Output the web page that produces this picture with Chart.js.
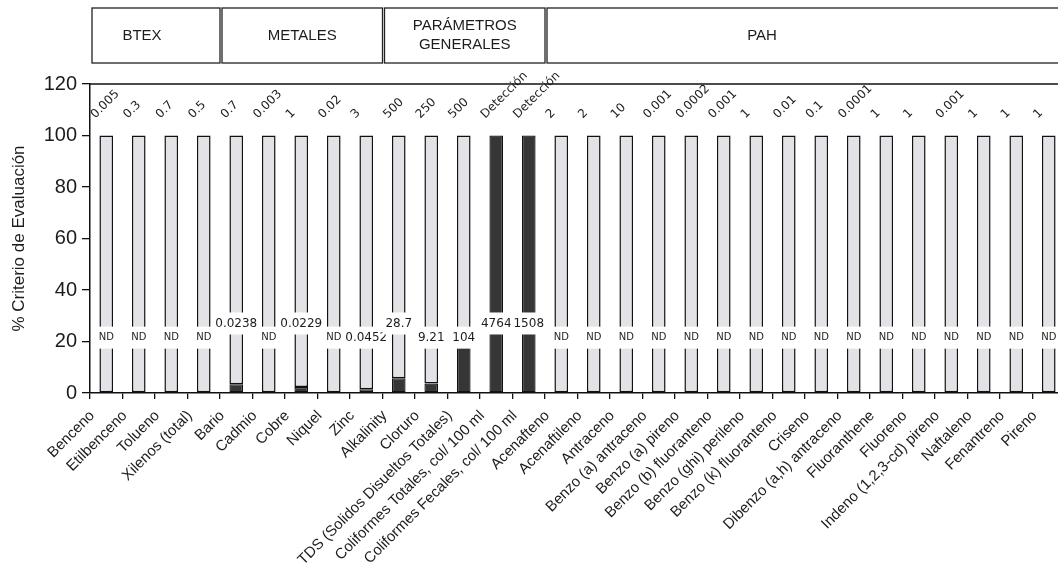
<!DOCTYPE html>
<html>
<head>
<meta charset="utf-8">
<script src="https://cdn.jsdelivr.net/npm/chart.js@4.4.1/dist/chart.umd.min.js"></script>
<style>
html, body { margin: 0; padding: 0; background: #fff; overflow: hidden; }
canvas { display: block; }
</style>
</head>
<body>
<canvas id="criterioChart" width="1070" height="587"></canvas>
<script>
// categorias del eje x
const parametros = [
	'Benceno', 'Etilbenceno', 'Tolueno', 'Xilenos (total)',
	'Bario', 'Cadmio', 'Cobre', 'Niquel', 'Zinc',
	'Alkalinity', 'Cloruro', 'TDS (Solidos Disueltos Totales)',
	'Coliformes Totales, col/ 100 ml', 'Coliformes Fecales, col/ 100 ml',
	'Acenafteno', 'Acenaftileno', 'Antraceno', 'Benzo (a) antraceno',
	'Benzo (a) pireno', 'Benzo (b) fluoranteno', 'Benzo (ghi) perileno',
	'Benzo (k) fluoranteno', 'Criseno', 'Dibenzo (a,h) antraceno',
	'Fluoranthene', 'Fluoreno', 'Indeno (1,2,3-cd) pireno', 'Naftaleno',
	'Fenantreno', 'Pireno'
];

// criterio de evaluacion (texto sobre cada barra)
const criterios = [
	'0.005', '0.3', '0.7', '0.5',
	'0.7', '0.003', '1', '0.02', '3',
	'500', '250', '500', 'Detección', 'Detección',
	'2', '2', '10', '0.001', '0.0002', '0.001', '1', '0.01',
	'0.1', '0.0001', '1', '1', '0.001', '1', '1', '1'
];

// valor medido (texto dentro de la barra)
const medidos = [
	'ND', 'ND', 'ND', 'ND',
	'0.0238', 'ND', '0.0229', 'ND', '0.0452',
	'28.7', '9.21', '104', '4764', '1508',
	'ND', 'ND', 'ND', 'ND', 'ND', 'ND', 'ND', 'ND',
	'ND', 'ND', 'ND', 'ND', 'ND', 'ND', 'ND', 'ND'
];

// % del criterio (parte oscura) y resto hasta 100 (parte clara)
const porcentajeMedido = [
	null, null, null, null,
	3.4, null, 2.3, null, 1.5,
	5.7, 3.7, 20.8, 100, 100,
	null, null, null, null, null, null, null, null,
	null, null, null, null, null, null, null, null
];
const porcentajeResto = [
	100, 100, 100, 100,
	96.6, 100, 97.7, 100, 98.5,
	94.3, 96.3, 79.2, null, null,
	100, 100, 100, 100, 100, 100, 100, 100,
	100, 100, 100, 100, 100, 100, 100, 100
];

// grupos de la tabla superior
const grupos = ['BTEX', 'METALES', 'PARÁMETROS\nGENERALES', 'PAH'];
const tamanoGrupos = [4, 5, 5, 16];

// etiquetas internas que van un poco mas arriba
const etiquetasAltas = [4, 6, 9, 12, 13];

const tinta = '#1c1c1c';

const etiquetasPlugin = {
	id: 'etiquetas',
	beforeDraw(chart) {
		const c = chart.ctx;
		const x = chart.scales.x;
		c.save();
		c.fillStyle = '#fff';
		c.fillRect(0, 0, chart.width, chart.height);

		// tabla de grupos
		const ancho = (chart.chartArea.right - chart.chartArea.left) / parametros.length;
		const arriba = 8, abajo = 63;
		c.strokeStyle = '#222';
		c.lineWidth = 1.3;
		c.fillStyle = tinta;
		c.font = '15px "Liberation Sans", Arial, sans-serif';
		c.textAlign = 'center';
		c.textBaseline = 'middle';
		let inicio = 0;
		grupos.forEach((g, k) => {
			const fin = inicio + tamanoGrupos[k];
			const x0 = x.getPixelForValue(inicio) - ancho / 2 + 2;
			let x1 = x.getPixelForValue(fin - 1) + ancho / 2;
			if (k === grupos.length - 1) x1 = chart.width + 10;
			c.strokeRect(x0, arriba, x1 - x0, abajo - arriba);
			const lineas = g.split('\n');
			let cx = (x0 + x1) / 2;
			if (k === 0) cx -= 14;
			if (k === grupos.length - 1) cx = x0 + 215;
			lineas.forEach((l, j) => {
				c.fillText(l, cx, (arriba + abajo) / 2 + (j - (lineas.length - 1) / 2) * 19);
			});
			inicio = fin;
		});
		c.restore();
	},
	afterDatasetsDraw(chart) {
		const c = chart.ctx;
		const x = chart.scales.x;
		const y = chart.scales.y;
		c.save();

		// linea superior en 120
		c.strokeStyle = '#111';
		c.lineWidth = 1.5;
		c.beginPath();
		c.moveTo(chart.chartArea.left, chart.chartArea.top);
		c.lineTo(chart.chartArea.right, chart.chartArea.top);
		c.stroke();

		// criterio sobre la barra, girado
		c.fillStyle = tinta;
		c.font = '12px "DejaVu Sans", sans-serif';
		c.textAlign = 'left';
		c.textBaseline = 'alphabetic';
		criterios.forEach((t, i) => {
			c.save();
			c.translate(x.getPixelForValue(i) - 11, y.getPixelForValue(106.5));
			c.rotate(-Math.PI / 4);
			c.fillText(t, 0, 0);
			c.restore();
		});

		// valor medido con fondo blanco
		c.textAlign = 'center';
		c.textBaseline = 'middle';
		medidos.forEach((t, i) => {
			const esND = t === 'ND';
			c.font = esND ? '10px "DejaVu Sans", sans-serif' : '12px "DejaVu Sans", sans-serif';
			const px = x.getPixelForValue(i);
			const nivel = etiquetasAltas.includes(i) ? 27 : 21.5;
			const py = y.getPixelForValue(nivel);
			const w = c.measureText(t).width + 6;
			c.fillStyle = '#fff';
			c.fillRect(px - w / 2, py - 11, w, 22);
			c.fillStyle = tinta;
			c.fillText(t, px, py);
		});
		c.restore();
	}
};

const ctx = document.getElementById('criterioChart');
new Chart(ctx, {
	type: 'bar',
	data: {
		labels: parametros,
		datasets: [
			{
				label: 'Medido',
				data: porcentajeMedido,
				backgroundColor: '#363636',
				borderColor: '#111',
				borderWidth: 1.3,
				borderSkipped: false,
				barPercentage: 0.42,
				categoryPercentage: 1
			},
			{
				label: 'Criterio',
				data: porcentajeResto,
				backgroundColor: '#e3e3e7',
				borderColor: '#111',
				borderWidth: 1.5,
				borderSkipped: false,
				barPercentage: 0.42,
				categoryPercentage: 1
			}
		]
	},
	options: {
		responsive: false,
		animation: false,
		devicePixelRatio: 1,
		layout: { padding: { top: 84, right: 5, left: 0, bottom: 0 } },
		plugins: {
			legend: { display: false },
			tooltip: { enabled: false }
		},
		scales: {
			x: {
				stacked: true,
				afterFit: s => { s.height = 194; },
				grid: {
					drawOnChartArea: false,
					color: '#111',
					tickLength: 6,
					lineWidth: 1.3
				},
				border: { color: '#111', width: 1.5 },
				ticks: {
					autoSkip: false,
					maxRotation: 45,
					minRotation: 45,
					labelOffset: -14,
					padding: 8,
					color: tinta,
					font: { family: '"Liberation Sans", Arial, sans-serif', size: 15 }
				}
			},
			y: {
				stacked: true,
				min: 0,
				max: 120,
				afterFit: s => { s.width = 90; },
				grid: {
					drawOnChartArea: false,
					color: '#111',
					tickLength: 8,
					lineWidth: 1.3
				},
				border: { color: '#111', width: 1.5 },
				ticks: {
					stepSize: 20,
					padding: 5,
					color: tinta,
					font: { family: '"Liberation Sans", Arial, sans-serif', size: 20 }
				},
				title: {
					display: true,
					text: '% Criterio de Evaluación',
					color: tinta,
					padding: { top: 9, bottom: 0 },
					font: { family: '"Liberation Sans", Arial, sans-serif', size: 17 }
				}
			}
		}
	},
	plugins: [etiquetasPlugin]
});
</script>
</body>
</html>
